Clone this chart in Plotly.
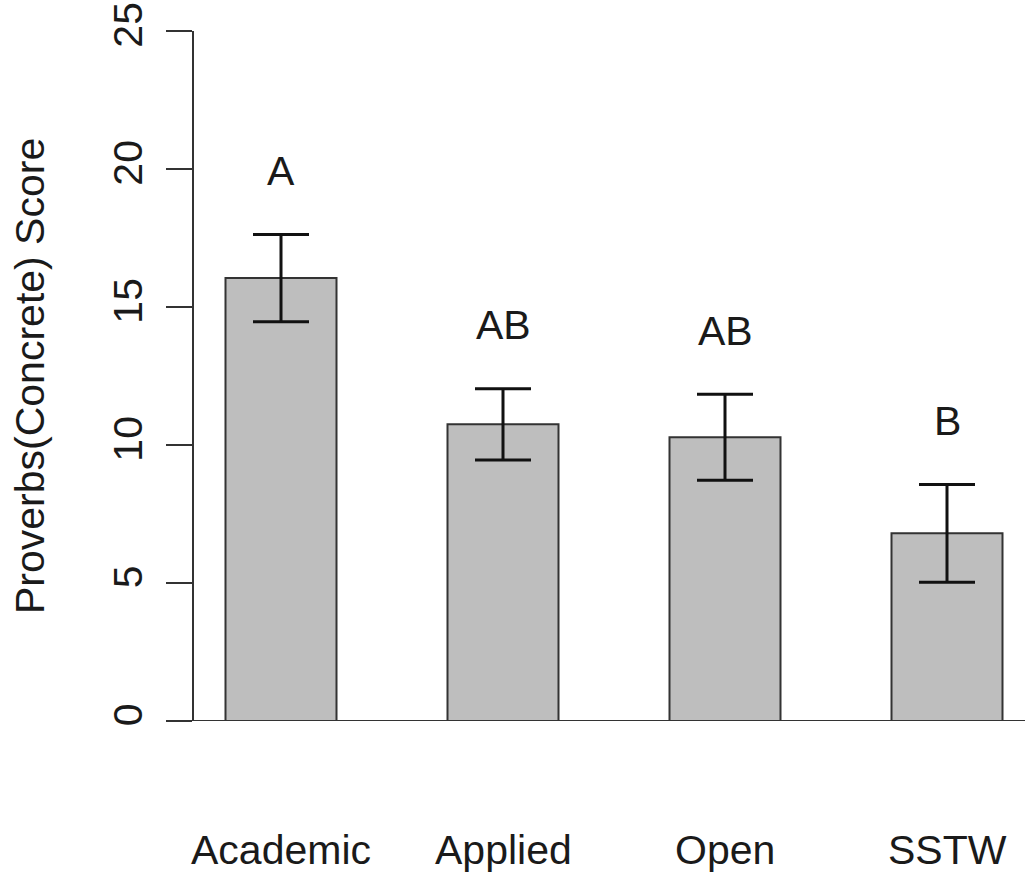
import plotly.graph_objects as go

# Group means, standard errors and significance letters
groups = ["Academic", "Applied", "Open", "SSTW"]
means = [16.05, 10.75, 10.28, 6.80]
errors = [1.58, 1.29, 1.56, 1.77]
letters = ["A", "AB", "AB", "B"]

FONT = "Liberation Sans, Arial, sans-serif"
INK = "#1a1a1a"
LINE = "#333333"
FS = 41

W, H = 1025, 877
ML, MR, MT, MB = 194, 0, 31, 156
plot_w = W - ML - MR

x_idx = list(range(len(groups)))

fig = go.Figure()
fig.add_trace(go.Bar(
    x=x_idx,
    y=means,
    width=0.5,
    marker=dict(color="#bebebe", line=dict(color=LINE, width=2)),
    error_y=dict(type="data", array=errors, visible=True,
                 color="#111111", thickness=3, width=28),
    showlegend=False,
))

# Significance letters above each error bar
for i, (m, e, lab) in enumerate(zip(means, errors, letters)):
    fig.add_annotation(x=i, y=m + e + 2.3, xref="x", yref="y",
                       text=lab, showarrow=False, yanchor="middle",
                       font=dict(family=FONT, size=FS, color=INK))

# Group names below the axis
for i, g in enumerate(groups):
    fig.add_annotation(x=i, y=0, xref="x", yref="paper", yshift=-129,
                       text=g, showarrow=False, yanchor="middle",
                       font=dict(family=FONT, size=FS, color=INK))

# Y axis title
fig.add_annotation(x=(30 - ML) / plot_w, y=0.5, xref="paper", yref="paper",
                   text="Proverbs(Concrete) Score", textangle=-90,
                   showarrow=False, xanchor="center", yanchor="middle",
                   font=dict(family=FONT, size=FS, color=INK))

# Baseline at zero
fig.add_shape(type="line", xref="paper", yref="y",
              x0=(168 - ML) / plot_w, x1=1, y0=0, y1=0,
              line=dict(color=LINE, width=2))

fig.update_layout(
    width=W, height=H, autosize=False,
    margin=dict(l=ML, r=MR, t=MT, b=MB),
    plot_bgcolor="white", paper_bgcolor="white",
    xaxis=dict(range=[(ML - 281) / 222, (W - 281) / 222],
               showticklabels=False, showgrid=False, zeroline=False,
               showline=False, ticks=""),
    yaxis=dict(range=[0, 25], tickvals=[0, 5, 10, 15, 20, 25],
               showgrid=False, zeroline=False,
               showline=True, linecolor=LINE, linewidth=2,
               ticks="outside", ticklen=26, tickwidth=2, tickcolor=LINE,
               tickangle=-90, ticklabelstandoff=8,
               tickfont=dict(family=FONT, size=FS, color=INK)),
)

fig.write_html("out.html")
